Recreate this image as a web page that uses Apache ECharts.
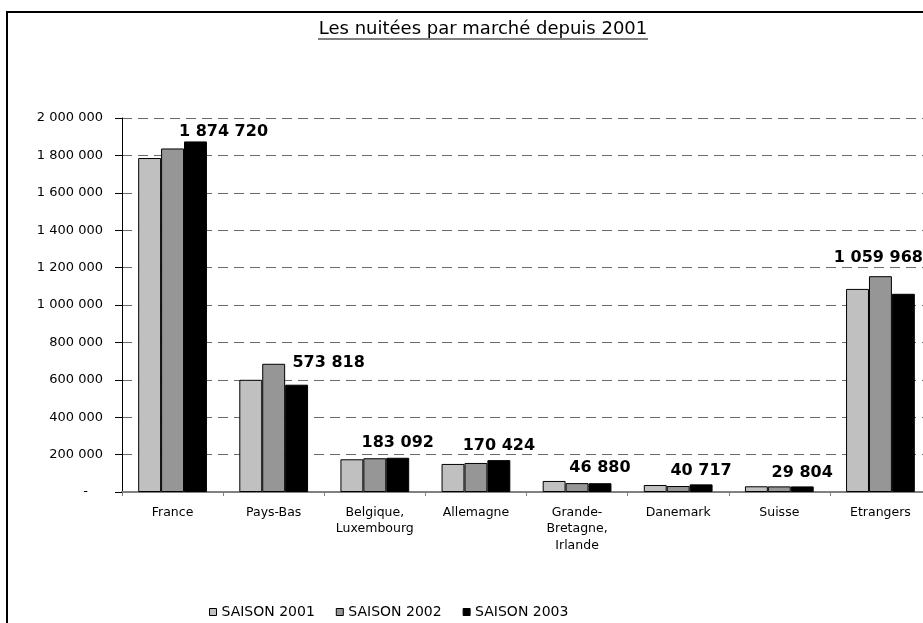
<!DOCTYPE html>
<html>
<head>
<meta charset="utf-8">
<title>Les nuitées par marché depuis 2001</title>
<script src="https://cdn.jsdelivr.net/npm/echarts@6/dist/echarts.min.js"></script>
<style>
  html, body { margin: 0; padding: 0; background: #fff; }
  #chart { width: 923px; height: 623px; }
</style>
</head>
<body>
<div id="chart"></div>
<script>
// données
var categories = ['France', 'Pays-Bas', 'Belgique,\nLuxembourg', 'Allemagne',
  'Grande-\nBretagne,\nIrlande', 'Danemark', 'Suisse', 'Etrangers']
var seriesNames = ['SAISON 2001', 'SAISON 2002', 'SAISON 2003']
var saison2001 = [1786000, 600000, 175000, 150000, 59000, 37500, 30500, 1086000]
var saison2002 = [1837000, 685600, 180500, 155300, 47500, 32000, 30000, 1154000]
var saison2003 = [1874720, 573818, 183092, 170424, 46880, 40717, 29804, 1059968]

// décalage des étiquettes (placées à la main comme dans Excel)
var labelOffsets = [[28, 3], [32, -9], [0, -2], [0, -1], [0, -2], [0, -1], [0, -1], [-25, -23]]

var FONT = '"DejaVu Sans", Verdana, sans-serif'

function fmt(v) {
  return String(v).replace(/\B(?=(\d{3})+(?!\d))/g, ' ')
}

var chart = echarts.init(document.getElementById('chart'))

var colors = ['#c0c0c0', '#969696', '#000000']
var allData = [saison2001, saison2002, saison2003]

var series = allData.map(function (d, i) {
  var s = {
    name: seriesNames[i],
    type: 'bar',
    barGap: 0,
    barCategoryGap: '32%',
    itemStyle: {
      color: colors[i],
      borderColor: '#000',
      borderWidth: 1
    },
    emphasis: { disabled: true },
    data: d
  }
  if (i === 2) {
    s.data = d.map(function (v, k) {
      return {
        value: v,
        label: { offset: labelOffsets[k] }
      }
    })
    s.label = {
      show: true,
      position: 'top',
      formatter: function (p) { return fmt(p.value) },
      fontFamily: FONT,
      fontWeight: 'bold',
      fontSize: 16,
      color: '#000'
    }
  }
  return s
})

var option = {
  backgroundColor: '#fff',
  animation: false,
  textStyle: { fontFamily: FONT },
  graphic: [
    {
      type: 'rect',
      shape: { x: 7, y: 12, width: 1000, height: 700 },
      style: { fill: 'none', stroke: '#000', lineWidth: 2 },
      silent: true
    },
    {
      type: 'text',
      x: 483,
      y: 29,
      style: {
        text: 'Les nuitées par marché depuis 2001',
        fontFamily: FONT,
        fontSize: 18,
        fill: '#000',
        align: 'center',
        verticalAlign: 'middle'
      }
    },
    {
      type: 'line',
      shape: { x1: 318, y1: 39, x2: 648, y2: 39 },
      style: { stroke: '#000', lineWidth: 1 }
    }
  ],
  legend: {
    left: 204,
    top: 600,
    itemWidth: 7,
    itemHeight: 7,
    itemGap: 21,
    icon: 'rect',
    selectedMode: false,
    itemStyle: { borderColor: '#000', borderWidth: 1 },
    textStyle: { fontFamily: FONT, fontSize: 14, color: '#000' },
    data: seriesNames
  },
  grid: {
    left: 122,
    width: 809,
    top: 118,
    bottom: 131,
    containLabel: false,
    outerBoundsMode: 'none'
  },
  xAxis: {
    type: 'category',
    data: categories,
    axisLine: { lineStyle: { color: '#808080', width: 2 } },
    axisTick: { show: true, length: 4, lineStyle: { color: '#808080' } },
    axisLabel: {
      interval: 0,
      margin: 12,
      fontFamily: FONT,
      fontSize: 12.5,
      lineHeight: 16.5,
      color: '#000',
      align: 'center'
    }
  },
  yAxis: {
    type: 'value',
    min: 0,
    max: 2000000,
    interval: 200000,
    axisLine: { show: true, lineStyle: { color: '#000', width: 1 } },
    axisTick: { show: true, length: 7, lineStyle: { color: '#000' } },
    axisLabel: {
      margin: 19,
      fontFamily: FONT,
      fontSize: 13,
      color: '#000',
      formatter: function (v) {
        return v === 0 ? '{z|-}' : fmt(v)
      },
      rich: {
        z: { fontFamily: FONT, fontSize: 13, color: '#000', padding: [0, 15, 0, 0] }
      }
    },
    splitLine: {
      show: true,
      lineStyle: { color: '#6b6b6b', type: [10, 6], width: 1 }
    }
  },
  series: series
}

chart.setOption(option)
</script>
</body>
</html>
